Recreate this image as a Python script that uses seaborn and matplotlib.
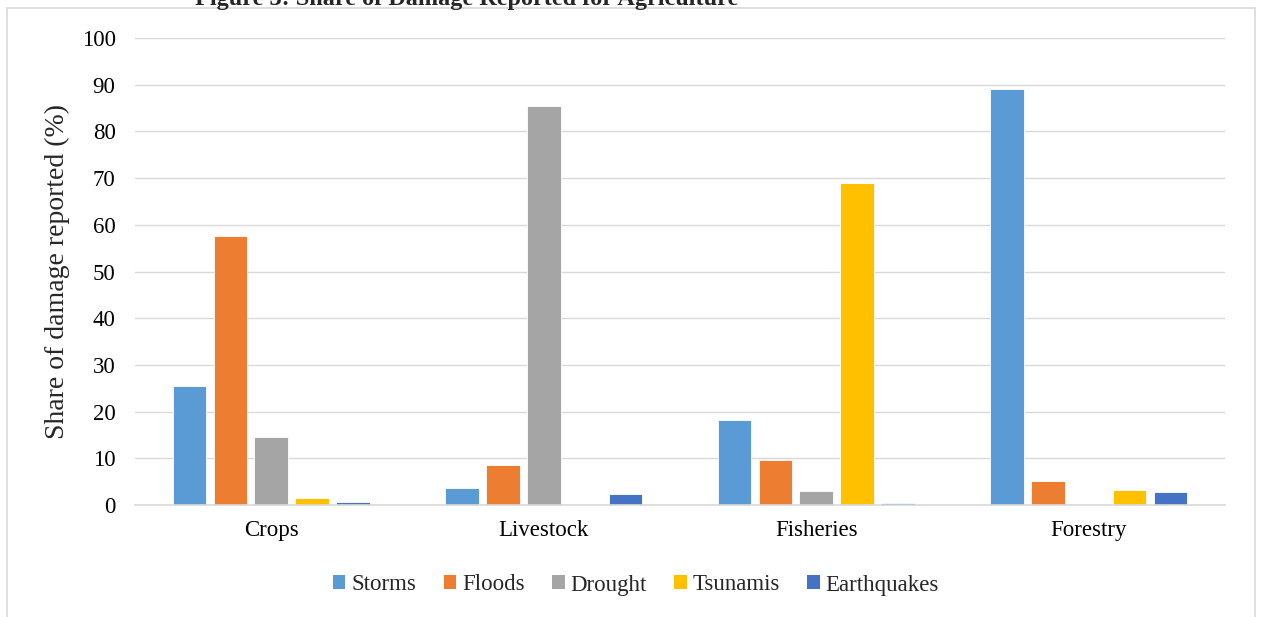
import matplotlib
matplotlib.use("Agg")
import matplotlib.pyplot as plt
import seaborn as sns
import pandas as pd
from matplotlib.patches import Rectangle, Patch

sectors = ["Crops", "Livestock", "Fisheries", "Forestry"]
hazards = ["Storms", "Floods", "Drought", "Tsunamis", "Earthquakes"]
storms = [25.5, 3.7, 18.2, 89.0]
floods = [57.7, 8.5, 9.6, 5.1]
drought = [14.6, 85.4, 3.1, 0.0]
tsunamis = [1.6, 0.0, 69.0, 3.2]
earthquakes = [0.7, 2.3, 0.4, 2.7]
colors = ["#5b9bd5", "#ed7d31", "#a5a5a5", "#ffc000", "#4472c4"]
yticks = [0, 10, 20, 30, 40, 50, 60, 70, 80, 90, 100]

rows = []
for h, vals in zip(hazards, [storms, floods, drought, tsunamis, earthquakes]):
    for s, v in zip(sectors, vals):
        rows.append({"Sector": s, "Hazard": h, "Value": v})
df = pd.DataFrame(rows)

sns.set_theme(style="white")
plt.rcParams["font.family"] = ["Liberation Serif", "DejaVu Serif"]

fig = plt.figure(figsize=(12.62, 6.17), dpi=100)
ax = fig.add_axes([135/1262, 1-505/617, 1090/1262, 467/617])

sns.barplot(data=df, x="Sector", y="Value", hue="Hazard", order=sectors,
            hue_order=hazards, palette=colors, saturation=1, width=0.75, gap=0.18,
            edgecolor="white", linewidth=0.6, ax=ax, legend=False)

ax.set_ylim(0, 100)
ax.set_yticks(yticks)
ax.set_xlim(-0.5, 3.5)
ax.yaxis.grid(True, color="#d9d9d9", linewidth=1.0)
ax.set_axisbelow(True)
for sp in ["top", "right", "left"]:
    ax.spines[sp].set_visible(False)
ax.spines["bottom"].set_color("#d9d9d9")
ax.spines["bottom"].set_linewidth(1.2)
ax.tick_params(axis="both", length=0, labelsize=16.5, colors="black")
ax.tick_params(axis="x", pad=11)
ax.tick_params(axis="y", pad=14)
ax.set_xlabel("")
ax.set_ylabel("Share of damage reported (%)", fontsize=20, labelpad=8)

handles = [Patch(facecolor=c, edgecolor="none") for c in colors]
fig.legend(handles, hazards, loc="center", bbox_to_anchor=(636/1262, 1-585/617),
           ncol=5, frameon=False, fontsize=16.5, handlelength=0.55, handleheight=0.55,
           handletextpad=0.25, columnspacing=1.2)

fig.text(467/1262, 1-5/617, "Figure 3: Share of Damage Reported for Agriculture",
         ha="center", va="baseline", fontsize=17.5, fontweight="bold")

fig.patches.append(Rectangle((7/1262, -0.01), 1248/1262, 1-8/617+0.01,
                             transform=fig.transFigure, fill=False,
                             edgecolor="#d9d9d9", linewidth=1.2))

fig.savefig("out.png", dpi=100)
